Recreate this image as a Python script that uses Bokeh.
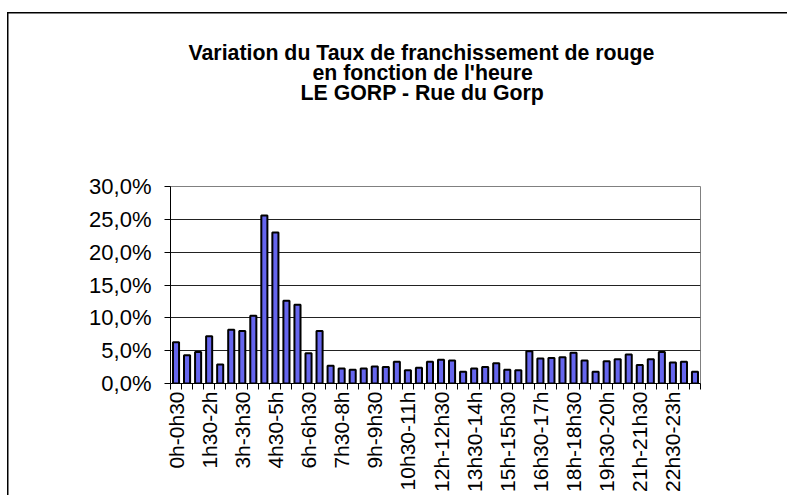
import math
import numpy as np
from bokeh.plotting import figure
from bokeh.models import (Range1d, FixedTicker, CustomJSTickFormatter,
                          ColumnDataSource, Title)
from bokeh.embed import file_html
from bokeh.resources import INLINE

# ---- data ----
categories = [
    "0h-0h30", "0h30-1h", "1h-1h30", "1h30-2h", "2h-2h30", "2h30-3h",
    "3h-3h30", "3h30-4h", "4h-4h30", "4h30-5h", "5h-5h30", "5h30-6h",
    "6h-6h30", "6h30-7h", "7h-7h30", "7h30-8h", "8h-8h30", "8h30-9h",
    "9h-9h30", "9h30-10h", "10h-10h30", "10h30-11h", "11h-11h30", "11h30-12h",
    "12h-12h30", "12h30-13h", "13h-13h30", "13h30-14h", "14h-14h30", "14h30-15h",
    "15h-15h30", "15h30-16h", "16h-16h30", "16h30-17h", "17h-17h30", "17h30-18h",
    "18h-18h30", "18h30-19h", "19h-19h30", "19h30-20h", "20h-20h30", "20h30-21h",
    "21h-21h30", "21h30-22h", "22h-22h30", "22h30-23h", "23h-23h30", "23h30-0h",
]
taux = [
    6.3, 4.3, 4.8, 7.2, 2.9, 8.2,
    8.0, 10.3, 25.6, 23.0, 12.6, 12.0,
    4.6, 8.0, 2.7, 2.3, 2.1, 2.3,
    2.6, 2.5, 3.3, 2.0, 2.4, 3.3,
    3.6, 3.5, 1.8, 2.3, 2.5, 3.1,
    2.1, 2.0, 4.9, 3.8, 3.9, 4.0,
    4.7, 3.5, 1.8, 3.4, 3.7, 4.4,
    2.8, 3.7, 4.8, 3.2, 3.3, 1.8,
]
tick_labels = categories[::3]
y_ticks = [0, 5, 10, 15, 20, 25, 30]
title_lines = [
    "Variation du Taux de franchissement de rouge",
    "en fonction de l'heure",
    "LE GORP - Rue du Gorp",
]
title_offsets = [18, 142, 130]   # left edge of each centred line, from plot left

FONT = "Liberation Sans"

idx = np.arange(len(categories))
source = ColumnDataSource(dict(x=idx, top=taux, cat=categories))

p = figure(width=787, height=495, output_backend="svg", toolbar_location=None,
           x_range=Range1d(-0.5, len(categories) - 0.5), y_range=Range1d(0, 30),
           min_border_left=170, min_border_right=87, min_border_top=186,
           min_border_bottom=112, tools="")
p.background_fill_color = "white"
p.border_fill_color = None
p.outline_line_color = "#808080"
p.outline_line_width = 1
# outer chart-area frame (top and left edges visible in the picture)
p.styles = {
    "background-color": "white",
    "background-image": "linear-gradient(#000, #000), linear-gradient(#000, #000)",
    "background-size": "790px 1.5px, 1.5px 490px",
    "background-position": "7px 12px, 7px 12px",
    "background-repeat": "no-repeat",
}

p.vbar(x="x", top="top", width=0.55, bottom=0, source=source,
       fill_color="#6666EE", line_color="black", line_width=2)

# title: spacer next to the plot, then one Title per line
p.title.visible = False
p.add_layout(Title(text=" ", text_font_size="20px", standoff=61), "above")
for line, off in zip(reversed(title_lines), reversed(title_offsets)):
    p.add_layout(Title(text=line, align="left", offset=off,
                       text_font=FONT, text_font_style="bold",
                       text_font_size="21.3px", text_color="black",
                       standoff=-6), "above")

# x axis
labeled_pos = [int(i) for i in idx[::3]]
p.xaxis.ticker = FixedTicker(ticks=labeled_pos,
                             minor_ticks=[i - 0.5 for i in range(len(categories) + 1)])
p.xaxis.formatter = CustomJSTickFormatter(args=dict(labels=categories),
                                          code="return labels[Math.round(tick)];")
p.xaxis.major_tick_out = 0
p.xaxis.major_tick_in = 0
p.xaxis.minor_tick_out = 6
p.xaxis.minor_tick_in = 0
p.xaxis.minor_tick_line_color = "black"
p.xaxis.axis_line_color = "black"
p.xaxis.axis_line_width = 1
p.xaxis.major_label_orientation = math.pi / 2
p.xaxis.major_label_text_font = FONT
p.xaxis.major_label_text_font_size = "21px"
p.xaxis.major_label_text_color = "black"
p.xaxis.major_label_standoff = 2

# y axis
p.yaxis.ticker = FixedTicker(ticks=y_ticks)
p.yaxis.formatter = CustomJSTickFormatter(
    code="return tick.toFixed(1).replace('.', ',') + '%';")
p.yaxis.major_tick_out = 6
p.yaxis.major_tick_in = 0
p.yaxis.minor_tick_line_color = None
p.yaxis.axis_line_color = "black"
p.yaxis.major_tick_line_color = "black"
p.yaxis.major_label_text_font = FONT
p.yaxis.major_label_text_font_size = "22px"
p.yaxis.major_label_text_color = "black"
p.yaxis.major_label_standoff = 13

p.xgrid.visible = False
p.ygrid.ticker = FixedTicker(ticks=y_ticks[1:-1])
p.ygrid.grid_line_color = "#222222"
p.ygrid.grid_line_width = 1

open("out.html", "w").write(file_html(p, INLINE))
